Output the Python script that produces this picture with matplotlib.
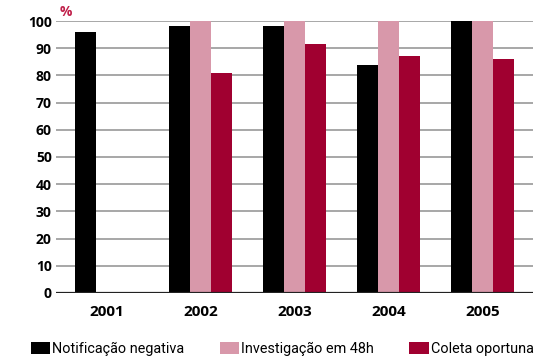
import numpy as np
import matplotlib.pyplot as plt
from matplotlib.patches import Patch

years = ["2001", "2002", "2003", "2004", "2005"]
notificacao = [96, 98, 98, 84, 100]
investigacao = [np.nan, 100, 100, 100, 100]
coleta = [np.nan, 81, 91.5, 87, 86]
series_names = ["Notificação negativa", "Investigação em 48h", "Coleta oportuna"]
colors = ["#000000", "#d898aa", "#a00030"]
yticks = list(range(0, 101, 10))

fig = plt.figure(figsize=(5.43, 3.56), dpi=100)
ax = fig.add_axes([0.103, 0.177, 0.879, 0.764])

x = np.arange(len(years))
w = 0.223
for i, (vals, c) in enumerate(zip([notificacao, investigacao, coleta], colors)):
    ax.bar(x + (i - 1) * w, vals, width=w, color=c, zorder=3, clip_on=False)

ax.set_xlim(-0.537, 4.537)
ax.set_ylim(0, 100)
ax.set_yticks(yticks)
ax.set_xticks(x)
ax.set_xticklabels(years, fontsize=11, fontweight="bold", family="Open Sans")
ax.set_yticklabels([str(t) for t in yticks], fontsize=10, fontweight="bold", family="Open Sans")
ax.tick_params(axis="both", length=0)
ax.tick_params(axis="y", pad=3)
ax.tick_params(axis="x", pad=9)

for t in yticks[1:]:
    ax.axhline(t, color="#a0a0a0", lw=1.3, zorder=1)
ax.axhline(0, color="#222222", lw=1.6, zorder=4)
for s in ax.spines.values():
    s.set_visible(False)

fig.text(0.122, 0.965, "%", color="#c0204a", fontsize=10, fontweight="bold",
         family="Open Sans", ha="center", va="center")

handles = [Patch(facecolor=c, edgecolor="none") for c in colors]
fig.legend(handles, series_names, loc="lower left", bbox_to_anchor=(0.057, 0.0),
           ncol=3, frameon=False, prop={"family": "Roboto", "size": 10.4},
           handlelength=1.33, handleheight=0.9, handletextpad=0.15,
           columnspacing=2.45, borderaxespad=0, borderpad=0)

fig.savefig("out.png", dpi=100)
